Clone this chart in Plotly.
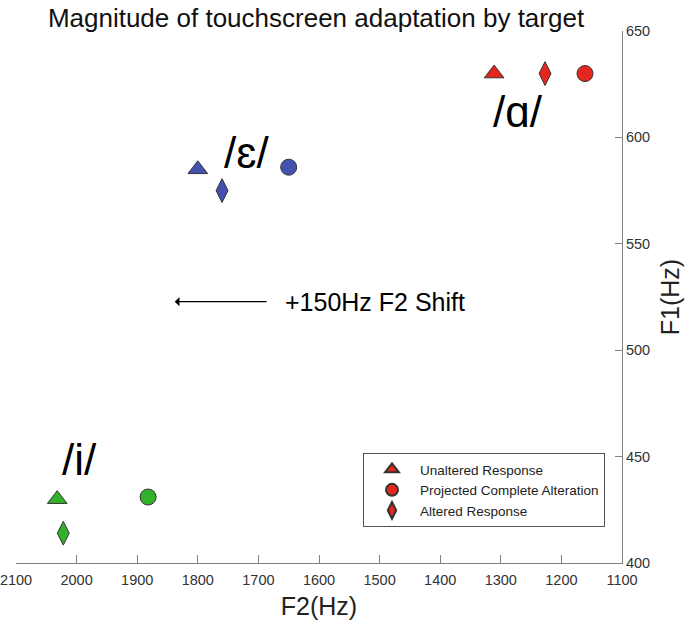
import plotly.graph_objects as go

# Data (F2 on x, F1 on y), by vowel target
vowels = ["i", "ɛ", "ɑ"]
colors = ["#33B02C", "#4352AE", "#E4261D"]
unaltered_f2 = [2032, 1800, 1311]
unaltered_f1 = [430, 585, 630]
projected_f2 = [1882, 1650, 1161]
projected_f1 = [431, 586, 630]
altered_f2 = [2022, 1760, 1227]
altered_f1 = [414, 575, 630]

vowel_labels = ["/i/", "/ɛ/", "/ɑ/"]
label_f2 = [1995, 1719, 1272]
label_f1 = [448.5, 593, 612]

legend_names = ["Unaltered Response", "Projected Complete Alteration", "Altered Response"]
xticks = [2100, 2000, 1900, 1800, 1700, 1600, 1500, 1400, 1300, 1200, 1100]
yticks = [400, 450, 500, 550, 600, 650]

FONT = "Liberation Sans, Arial, sans-serif"

fig = go.Figure()
line = dict(color="#333333", width=1)
for i, v in enumerate(vowels):
    fig.add_trace(go.Scatter(x=[unaltered_f2[i]], y=[unaltered_f1[i]], mode="markers",
                             marker=dict(symbol="triangle-up", size=17, color=colors[i], line=line),
                             showlegend=False))
    fig.add_trace(go.Scatter(x=[projected_f2[i]], y=[projected_f1[i]], mode="markers",
                             marker=dict(symbol="circle", size=16, color=colors[i], line=line),
                             showlegend=False))
    fig.add_trace(go.Scatter(x=[altered_f2[i]], y=[altered_f1[i]], mode="markers",
                             marker=dict(symbol="diamond-tall", size=17, color=colors[i], line=line),
                             showlegend=False))

for name, sym in zip(legend_names, ["triangle-up", "circle", "diamond-tall"]):
    fig.add_trace(go.Scatter(x=[None], y=[None], mode="markers", name=name,
                             marker=dict(symbol=sym, size=17, color=colors[2], line=line)))

for t, x, y in zip(vowel_labels, label_f2, label_f1):
    fig.add_annotation(x=x, y=y, text=t, showarrow=False,
                       font=dict(size=44, color="black", family=FONT))

fig.add_annotation(x=1838, y=522.8, ax=1684, ay=522.8, axref="x", ayref="y",
                   xref="x", yref="y", text="", showarrow=True,
                   arrowhead=1, arrowsize=1.3, arrowwidth=1.2, arrowcolor="black")
fig.add_annotation(x=1659, y=522.8, text="+150Hz F2 Shift", showarrow=False,
                   xanchor="left", font=dict(size=25, color="black", family=FONT))

fig.update_layout(
    width=685, height=624,
    margin=dict(l=16, r=63, t=31, b=61),
    paper_bgcolor="white", plot_bgcolor="white",
    font=dict(family=FONT, color="#222222"),
    title=dict(text="Magnitude of touchscreen adaptation by target", x=316 / 685,
               xanchor="center", xref="container",
               y=1 - 18 / 624, yanchor="middle", font=dict(size=26, color="#111111")),
    xaxis=dict(range=[2100, 1100], tickvals=xticks, ticks="inside", ticklen=8, automargin=False,
               ticklabeloverflow="allow", ticklabelstandoff=4,
               showline=True, linecolor="#808080", linewidth=1, showgrid=False, zeroline=False,
               tickcolor="#808080", tickfont=dict(size=14.5, color="#333333"),
               title=dict(text="F2(Hz)", font=dict(size=25, color="#222222"), standoff=10)),
    yaxis=dict(range=[400, 650], tickvals=yticks, side="right", ticks="inside", ticklen=7,
               automargin=False, ticklabeloverflow="allow",
               showline=True, linecolor="#808080", linewidth=1, showgrid=False, zeroline=False,
               tickcolor="#808080", tickfont=dict(size=14.5, color="#333333"),
               title=dict(text="F1(Hz)", font=dict(size=25, color="#222222"), standoff=12)),
    legend=dict(x=(363 - 16) / 606, y=(563 - 453) / 532, xanchor="left", yanchor="top",
                bgcolor="white", bordercolor="#555555", borderwidth=1,
                font=dict(size=13.5, color="#222222"), itemsizing="constant", itemwidth=46),
)

fig.write_html("out.html", config={"displayModeBar": False},
               post_script="document.body.style.margin='0px';")
